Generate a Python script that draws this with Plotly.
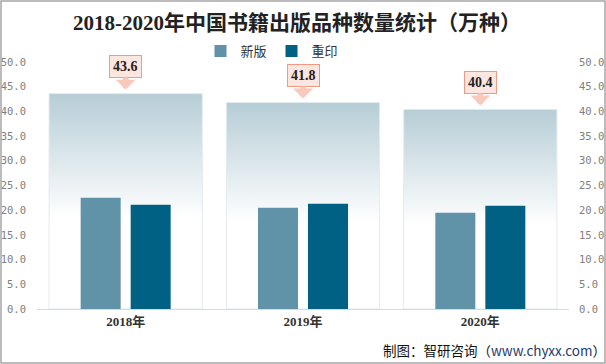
import plotly.graph_objects as go

years = ["2018年", "2019年", "2020年"]
new_ed = [22.5, 20.5, 19.5]
reprint = [21.1, 21.3, 20.9]
totals = [43.6, 41.8, 40.4]
yticks = [0, 5, 10, 15, 20, 25, 30, 35, 40, 45, 50]

W, H = 606, 364
ML, MR, MT, MB = 37, 37, 62, 55
PW = W - ML - MR
PH = H - MT - MB
cat_px = PW / 3.0

bar_w = 40 / cat_px
gap = 10 / cat_px
bg_half = 0.432

xs = list(range(len(years)))
fig = go.Figure()

# background total bars with vertical gradient (base axes, drawn below)
for i, tot in enumerate(totals):
    fig.add_trace(go.Scatter(
        x=[i - bg_half, i + bg_half, i + bg_half, i - bg_half, i - bg_half],
        y=[0, 0, tot, tot, 0],
        mode="lines", fill="toself",
        line=dict(color="#e2ebef", width=1),
        fillgradient=dict(type="vertical", start=0, stop=tot,
                          colorscale=[[0, "#ffffff"], [0.42, "#ffffff"],
                                      [0.62, "#e6eef1"], [1, "#b6cdd6"]]),
        showlegend=False, hoverinfo="skip"))

# real bars on overlaying axes so they sit above the backgrounds
fig.add_trace(go.Bar(x=xs, y=new_ed, name="新版", width=bar_w, xaxis="x2", yaxis="y2",
                     offset=-(bar_w + gap / 2), marker=dict(color="#6193a8", line=dict(width=0))))
fig.add_trace(go.Bar(x=xs, y=reprint, name="重印", width=bar_w, xaxis="x2", yaxis="y2",
                     offset=gap / 2, marker=dict(color="#006184", line=dict(width=0))))

for i, tot in enumerate(totals):
    fig.add_annotation(
        x=i, y=tot, text=f"<b>{tot}</b>", showarrow=True,
        ax=0, ay=-27, axref="pixel", ayref="pixel",
        arrowhead=1, arrowsize=0.55, arrowwidth=6, arrowcolor="#f9c9bb",
        standoff=4,
        font=dict(family="Liberation Serif, DejaVu Serif, serif", size=14, color="#222"),
        bgcolor="#fde6df", bordercolor="#f09a82", borderwidth=1, borderpad=3)

fig.add_annotation(
    xref="paper", yref="paper", x=(608 - ML) / PW, y=(H - MB - 350) / PH,
    xanchor="right", yanchor="middle", showarrow=False,
    text="制图：智研咨询（<span style='color:#1f3a6e'>www.chyxx.com</span>）",
    font=dict(family="Noto Sans CJK SC", size=13.5, color="#111"))

tick_font = dict(family="DejaVu Sans Mono, monospace", size=10.5, color="#808080")
fig.update_layout(
    width=W, height=H, margin=dict(l=ML, r=MR, t=MT, b=MB, autoexpand=False),
    paper_bgcolor="white", plot_bgcolor="white",
    barmode="overlay",
    title=dict(text="<b>2018-2020年中国书籍出版品种数量统计（万种）</b>",
               x=0.49, xanchor="center", y=1 - 23 / H, yanchor="middle",
               font=dict(family="Liberation Serif, Noto Sans CJK SC", size=21, color="#222")),
    legend=dict(orientation="h", x=(272 - ML) / PW, xanchor="center", y=(H - MB - 51) / PH,
                yanchor="middle", font=dict(family="Noto Sans CJK SC", size=13, color="#333"),
                itemwidth=30, bgcolor="rgba(0,0,0,0)"),
    xaxis=dict(range=[-0.5, 2.5], tickvals=xs, ticktext=[f"<b>{y}</b>" for y in years],
               showgrid=False, zeroline=False, showline=True, linecolor="#d9d9d9", linewidth=1,
               ticks="", automargin=False,
               tickfont=dict(family="Liberation Serif, Noto Sans CJK SC", size=13, color="#333")),
    xaxis2=dict(range=[-0.5, 2.5], overlaying="x", visible=False),
    yaxis=dict(range=[0, 50], tickvals=yticks, ticktext=[f"{v:.1f}" for v in yticks],
               showgrid=False, zeroline=False, showline=False, ticks="", automargin=False,
               tickfont=tick_font, ticklabelstandoff=10),
    yaxis2=dict(range=[0, 50], overlaying="y", side="right", tickvals=yticks,
                ticktext=[f"{v:.1f}" for v in yticks], showgrid=False, zeroline=False,
                showline=False, ticks="", automargin=False, tickfont=tick_font,
                ticklabelstandoff=9),
    shapes=[dict(type="rect", xref="paper", yref="paper",
                 x0=(1 - ML) / PW, x1=(W - 1 - ML) / PW,
                 y0=(H - MB - (H - 1)) / PH, y1=(H - MB - 1) / PH,
                 line=dict(color="#a6a6a6", width=1.5), fillcolor="rgba(0,0,0,0)",
                 layer="above")],
)

fig.write_html("out.html", config={"displayModeBar": False},
               post_script="document.body.style.margin='0';")
